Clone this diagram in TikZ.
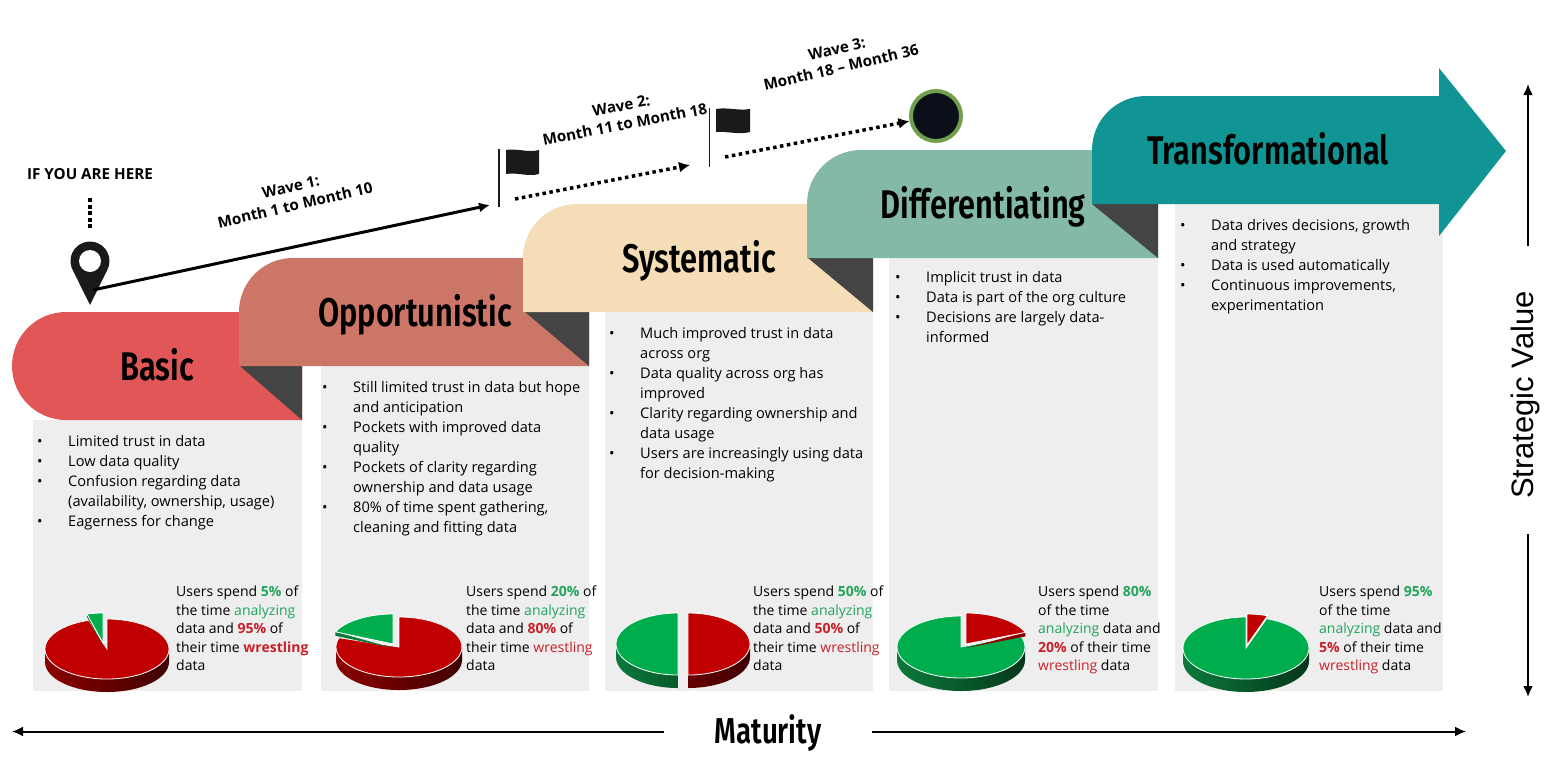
\documentclass[tikz,border=0pt]{standalone}
\usepackage{fontspec}
\setmainfont{Open Sans}
\newfontfamily\headfont[FakeStretch=0.77]{Fira Sans SemiBold}
\newfontfamily\axisfont{Liberation Sans}
\usetikzlibrary{arrows.meta}
\definecolor{panelgray}{HTML}{EEEEEE}
\definecolor{folddark}{HTML}{444444}
\definecolor{basiccol}{HTML}{E15656}
\definecolor{opportcol}{HTML}{CC7668}
\definecolor{systemcol}{HTML}{F5DDB8}
\definecolor{differcol}{HTML}{84B9A6}
\definecolor{transcol}{HTML}{109594}
\definecolor{piered}{HTML}{C00000}
\definecolor{piereddark}{HTML}{8C0000}
\definecolor{piegreen}{HTML}{00AD4D}
\definecolor{piegreendark}{HTML}{0B7A3B}
\definecolor{textgreen}{HTML}{22A45A}
\definecolor{textred}{HTML}{C8202A}
\definecolor{darkmark}{HTML}{1A1A1A}
\definecolor{goalfill}{HTML}{0A0F1A}
\definecolor{goalring}{HTML}{70A04E}
\tikzset{
  bodytext/.style={anchor=north west, align=left, inner sep=0pt, font=\fontsize{14.6}{20}\selectfont},
  pietext/.style={anchor=north west, align=left, inner sep=0pt, font=\fontsize{14}{18.5}\selectfont},
  headtext/.style={anchor=base, inner sep=0pt, font=\headfont\fontsize{40}{42}\selectfont},
  wavetext/.style={align=center, inner sep=0pt, font=\bfseries\fontsize{15.2}{19}\selectfont},
  axisline/.style={draw=black, line width=2pt, -{Latex[length=11pt,width=10pt]}},
  dotline/.style={draw=black, line width=3.5pt, dash pattern=on 3.5pt off 3.5pt, -{Latex[length=11pt,width=11pt]}}
}
% bullet line and its continuation
\newcommand{\itm}[1]{\makebox[31pt][l]{\textbullet}#1}
\newcommand{\cnt}[1]{\hspace*{31pt}#1}
\newcommand{\gt}[1]{\textcolor{textgreen}{#1}}
\newcommand{\rt}[1]{\textcolor{textred}{#1}}
% pie rim: cx, cy, rx, ry, depth, colour
\newcommand{\pieRim}[6]{
  \shade[left color=#6, right color=#6!45!black]
    ([shift={(#1,#2)}]180:#3pt and #4pt) arc[start angle=180, end angle=360, x radius=#3pt, y radius=#4pt]
    -- ++(0,#5) arc[start angle=360, end angle=180, x radius=#3pt, y radius=#4pt] -- cycle;
}
% pie top: cx, cy, rx, ry, from angle, to angle, colour
\newcommand{\pieTop}[7]{
  \fill[#7, draw=white, line width=0.8pt]
    (#1,#2) -- ([shift={(#1,#2)}]#5:#3pt and #4pt) arc[start angle=#5, end angle=#6, x radius=#3pt, y radius=#4pt] -- cycle;
}
\begin{document}
\begin{tikzpicture}[x=1pt, y=-1pt]
\useasboundingbox (0,0) rectangle (1561,769);
% Grey panels
\fill[panelgray] (33,420) rectangle (302,691);
\fill[panelgray] (321,366) rectangle (589,691);
\fill[panelgray] (605,312) rectangle (873,691);
\fill[panelgray] (889,258) rectangle (1158,691);
\fill[panelgray] (1175,204) rectangle (1443,691);
% Steps, lowest first
\fill[basiccol, rounded corners=54pt] (12,420) -- (12,312) [sharp corners] -- (302,312) -- (302,420) [rounded corners=54pt] -- cycle;
\fill[folddark] (240,366) -- (302,366) -- (302,420) -- cycle;
\fill[opportcol] (239,366) [rounded corners=54pt] -- (239,258) [sharp corners] -- (589,258) -- (589,366) -- cycle;
\fill[folddark] (525,312) -- (589,312) -- (589,366) -- cycle;
\fill[systemcol] (523,312) [rounded corners=54pt] -- (523,204) [sharp corners] -- (873,204) -- (873,312) -- cycle;
\fill[folddark] (808,258) -- (873,258) -- (873,312) -- cycle;
\fill[differcol] (807,258) [rounded corners=54pt] -- (807,150) [sharp corners] -- (1158,150) -- (1158,258) -- cycle;
\fill[folddark] (1092,204) -- (1158,204) -- (1158,258) -- cycle;
\fill[transcol] (1092,204) [rounded corners=54pt] -- (1092,96) [sharp corners] -- (1439,96) -- (1439,68) -- (1506,151) -- (1439,236) -- (1439,204) -- cycle;
% Step titles
\node[headtext] (basictitle) at (157,380) {Basic};
\node[headtext] (opporttitle) at (415,326) {Opportunistic};
\node[headtext] (systemtitle) at (699,272) {Systematic};
\node[headtext] (differtitle) at (983,218) {Differentiating};
\node[headtext] (transtitle) at (1268,164) {Transformational};
% Bullet lists
\node[bodytext] (basiclist) at (37,435) {\itm{Limited trust in data}\\ \itm{Low data quality}\\ \itm{Confusion regarding data}\\ \cnt{(availability, ownership, usage)}\\ \itm{Eagerness for change}};
\node[bodytext] (opportlist) at (322,381) {\itm{Still limited trust in data but hope}\\ \cnt{and anticipation}\\ \itm{Pockets with improved data}\\ \cnt{quality}\\ \itm{Pockets of clarity regarding}\\ \cnt{ownership and data usage}\\ \itm{80\% of time spent gathering,}\\ \cnt{cleaning and fitting data}};
\node[bodytext] (systemlist) at (609,327) {\itm{Much improved trust in data}\\ \cnt{across org}\\ \itm{Data quality across org has}\\ \cnt{improved}\\ \itm{Clarity regarding ownership and}\\ \cnt{data usage}\\ \itm{Users are increasingly using data}\\ \cnt{for decision-making}};
\node[bodytext] (differlist) at (895,271) {\itm{Implicit trust in data}\\ \itm{Data is part of the org culture}\\ \itm{Decisions are largely data-}\\ \cnt{informed}};
\node[bodytext] (translist) at (1180,219) {\itm{Data drives decisions, growth}\\ \cnt{and strategy}\\ \itm{Data is used automatically}\\ \itm{Continuous improvements,}\\ \cnt{experimentation}};
% Pies
\pieRim{107}{649}{62}{30}{13}{piereddark}
\pieTop{107}{649}{62}{30}{107}{450}{piered}
\fill[piegreendark] (103,646) -- ([shift={(103,646)}]105:62pt and 30pt) -- ([shift={(103,643)}]105:62pt and 30pt) -- cycle;
\pieTop{103}{643}{62}{30}{90}{105}{piegreen}
\pieRim{399}{647}{63}{30}{13}{piereddark}
\pieTop{399}{647}{63}{30}{162}{450}{piered}
\fill[piegreendark] (393,648) -- ([shift={(393,648)}]156:63pt and 30pt) -- ([shift={(393,644)}]156:63pt and 30pt) -- cycle;
\pieTop{393}{644}{63}{30}{90}{156}{piegreen}
\pieRim{678}{644}{62}{31}{13}{piegreendark}
\fill[panelgray] (678,630) rectangle (688,688);
\pieTop{678}{644}{62}{31}{90}{270}{piegreen}
\begin{scope}
  \clip (688,600) rectangle (760,700);
  \pieRim{688}{644}{62}{31}{13}{piereddark}
\end{scope}
\pieTop{688}{644}{62}{31}{-90}{90}{piered}
\pieRim{961}{647}{64}{31}{13}{piegreendark}
\pieTop{961}{647}{64}{31}{90}{382}{piegreen}
\fill[piereddark] (966,648) -- ([shift={(966,648)}]22:64pt and 31pt) -- ([shift={(966,644)}]22:64pt and 31pt) -- cycle;
\pieTop{966}{644}{64}{31}{22}{90}{piered}
\pieRim{1246}{648}{63}{31}{13}{piegreendark}
\pieTop{1246}{648}{63}{31}{90}{431}{piegreen}
\pieTop{1247}{645}{63}{31}{71}{90}{piered}
% Pie captions
\node[pietext] (basicpie) at (176,586) {Users spend \textbf{\gt{5\%}} of\\ the time \gt{analyzing}\\ data and \textbf{\rt{95\%}} of\\ their time \textbf{\rt{wrestling}}\\ data};
\node[pietext] (opportpie) at (466,586) {Users spend \textbf{\gt{20\%}} of\\ the time \gt{analyzing}\\ data and \textbf{\rt{80\%}} of\\ their time \rt{wrestling}\\ data};
\node[pietext] (systempie) at (753,586) {Users spend \textbf{\gt{50\%}} of\\ the time \gt{analyzing}\\ data and \textbf{\rt{50\%}} of\\ their time \rt{wrestling}\\ data};
\node[pietext] (differpie) at (1038,586) {Users spend \textbf{\gt{80\%}}\\ of the time\\ \gt{analyzing} data and\\ \textbf{\rt{20\%}} of their time\\ \rt{wrestling} data};
\node[pietext] (transpie) at (1319,586) {Users spend \textbf{\gt{95\%}}\\ of the time\\ \gt{analyzing} data and\\ \textbf{\rt{5\%}} of their time\\ \rt{wrestling} data};
% Start marker
\node[font=\bfseries\fontsize{15.2}{18}\selectfont, inner sep=0pt] (here) at (90,174) {IF YOU ARE HERE};
\coordinate (hereA) at (90,198);
\coordinate (hereB) at (90,228);
\draw[black, line width=4pt, dash pattern=on 4pt off 2.6pt] (hereA) -- (hereB);
\fill[darkmark] (90,305) -- (73.1,270.8) arc[start angle=210, end angle=-30, radius=19.5pt] -- cycle;
\fill[white] (90,261) circle[radius=11pt];
\coordinate (pin) at (93,290);
% Waves
\coordinate (poleAtop) at (499,149);
\coordinate (poleAbot) at (499,207);
\coordinate (poleBtop) at (709.5,108);
\coordinate (poleBbot) at (709.5,167);
\draw[darkmark, line width=1.8pt] (poleAtop) -- (poleAbot);
\draw[darkmark, line width=1.8pt] (poleBtop) -- (poleBbot);
\fill[darkmark] (506,150) .. controls (517,148) and (528,153) .. (539,150) -- (539,174) .. controls (528,177) and (517,172) .. (506,174) -- cycle;
\fill[darkmark] (716,109) .. controls (727,107) and (739,111) .. (750,109) -- (750,132) .. controls (739,135) and (727,131) .. (716,132) -- cycle;
\coordinate (flagA) at (490,205);
\draw[black, line width=3pt, -{Latex[length=11pt,width=10pt]}] (pin) -- (flagA);
\coordinate (dotAstart) at (515,199);
\coordinate (dotAend) at (690,165);
\draw[dotline] (dotAstart) -- (dotAend);
\node[circle, fill=goalfill, draw=goalring, line width=4pt, minimum size=50pt, inner sep=0pt] (goal) at (936,116) {};
\coordinate (dotBstart) at (725,157);
\draw[dotline] (dotBstart) -- (goal);
\node[wavetext, rotate=13] (waveA) at (293,196) {Wave 1:\\ Month 1 to Month 10};
\node[wavetext, rotate=11] (waveB) at (623,115) {Wave 2:\\ Month 11 to Month 18};
\node[wavetext, rotate=13] (waveC) at (839,58) {Wave 3:\\ Month 18 -- Month 36};
% Axes
\node[inner sep=0pt, minimum width=208pt, font=\headfont\fontsize{36}{38}\selectfont] (maturity) at (768,733) {Maturity};
\coordinate (matleft) at (12,731.5);
\coordinate (matright) at (1466,731.5);
\draw[axisline] (maturity.west |- matleft) -- (matleft);
\draw[axisline] (maturity.east |- matright) -- (matright);
\node[rotate=90, inner sep=0pt, minimum width=297pt, font=\axisfont\fontsize{31}{33}\selectfont] (strategic) at (1525,395) {Strategic Value};
\coordinate (valuetop) at (1528,84);
\coordinate (valuebot) at (1528,697);
\draw[axisline] (valuetop |- strategic.east) -- (valuetop);
\draw[axisline, shorten <=-9.5pt] (valuebot |- strategic.west) -- (valuebot);
\end{tikzpicture}
\end{document}
